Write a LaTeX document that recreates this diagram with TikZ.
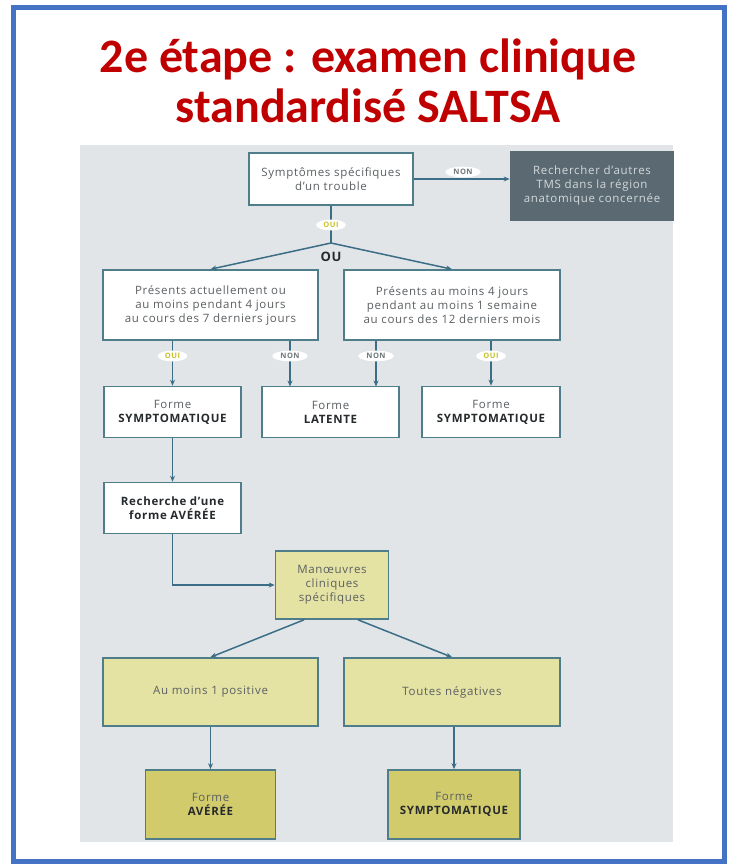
\documentclass[tikz,border=0pt]{standalone}
\usepackage{fontspec}
\setmainfont{Open Sans}[LetterSpace=6]
\newfontfamily\titlefont{Carlito}
\usetikzlibrary{arrows.meta,shapes.geometric,calc}
\definecolor{frameblue}{HTML}{4472C4}
\definecolor{panelgray}{HTML}{E2E5E8}
\definecolor{linkteal}{HTML}{3B6E86}
\definecolor{edgeteal}{HTML}{4F7E8A}
\definecolor{titlered}{HTML}{C00000}
\definecolor{darkfill}{HTML}{5B6A72}
\definecolor{darktext}{HTML}{D3D8DB}
\definecolor{paleyellow}{HTML}{E5E3A4}
\definecolor{olive}{HTML}{D1CB6C}
\definecolor{bodytext}{HTML}{5A5F62}
\definecolor{strongtext}{HTML}{262A2C}
\definecolor{ouicolor}{HTML}{C6C22A}
\definecolor{noncolor}{HTML}{6E767A}
\tikzset{
  basebox/.style={draw=edgeteal, line width=1.6pt, align=center, inner sep=2pt,
    font=\fontsize{11.5}{14}\selectfont, text=bodytext},
  wbox/.style={basebox, fill=white},
  ybox/.style={basebox, fill=paleyellow},
  obox/.style={basebox, fill=olive},
  dbox/.style={basebox, draw=darkfill, fill=darkfill, text=darktext},
  arr/.style={draw=linkteal, line width=1.5pt, -{Stealth[length=6pt,width=5pt]}},
  link/.style={draw=linkteal, line width=1.5pt},
  lab/.style={ellipse, fill=white, inner xsep=3pt, inner ysep=1pt,
    font=\bfseries\fontsize{7.5}{7.5}\selectfont},
  oui/.style={lab, text=ouicolor},
  non/.style={lab, text=noncolor},
}
\newcommand{\boldword}[1]{{\bfseries\color{strongtext}#1}}
\begin{document}
\begin{tikzpicture}[x=1pt,y=-1pt]
\useasboundingbox (0,0) rectangle (733,865);
\fill[white] (0,0) rectangle (733,865);
% outer frame
\draw[frameblue, line width=5pt] (13,7) rectangle (724,861);
% title
\node[font=\titlefont\bfseries\fontsize{48}{50}\selectfont, text=titlered, align=center]
  (title) at (368,81) {2e étape : examen clinique\\standardisé SALTSA};
% grey panel
\fill[panelgray] (80,145) rectangle (673,842);

% boxes
\node[wbox, minimum width=164pt, minimum height=52pt] (sym) at (331,179)
  {Symptômes spécifiques\\d’un trouble};
\node[dbox, minimum width=163pt, minimum height=68pt] (other) at (592,186)
  {Rechercher d’autres\\TMS dans la région\\anatomique concernée};
\node[wbox, minimum width=215pt, minimum height=70pt] (left) at (210.5,305)
  {Présents actuellement ou\\au moins pendant 4 jours\\au cours des 7 derniers jours};
\node[wbox, minimum width=216pt, minimum height=70pt] (right) at (452,305)
  {Présents au moins 4 jours\\pendant au moins 1 semaine\\au cours des 12 derniers mois};
\node[wbox, minimum width=137pt, minimum height=51pt] (symA) at (172.5,412)
  {Forme\\\boldword{SYMPTOMATIQUE}};
\node[wbox, minimum width=137pt, minimum height=51pt] (lat) at (330.5,412)
  {Forme\\\boldword{LATENTE}};
\node[wbox, minimum width=138pt, minimum height=51pt] (symB) at (491,412)
  {Forme\\\boldword{SYMPTOMATIQUE}};
\node[wbox, minimum width=137pt, minimum height=51pt] (rech) at (172.5,508)
  {\boldword{Recherche d’une}\\\boldword{forme AVÉRÉE}};
\node[ybox, minimum width=113pt, minimum height=68pt] (man) at (332,585)
  {Manœuvres\\cliniques\\spécifiques};
\node[ybox, minimum width=215pt, minimum height=68pt] (pos) at (210.5,692)
  {Au moins 1 positive};
\node[ybox, minimum width=216pt, minimum height=68pt] (neg) at (452,692)
  {Toutes négatives};
\node[obox, minimum width=130pt, minimum height=69pt] (av) at (210.5,804.5)
  {Forme\\\boldword{AVÉRÉE}};
\node[obox, minimum width=132pt, minimum height=69pt] (symC) at (454,804.5)
  {Forme\\\boldword{SYMPTOMATIQUE}};

% first decision
\draw[arr] (sym.east) -- (sym.east -| other.west);
\node[non] (non0) at (463,172) {NON};
\coordinate (split) at (331,243);
\draw[link] (sym.south) -- (split);
\node[oui] (oui0) at (331,225) {OUI};
\draw[arr] (split) -- (left.north);
\draw[arr] (split) -- (right.north);
\node[font=\bfseries\fontsize{13}{13}\selectfont, text=strongtext] (ou) at (331,257) {OU};

% second level
\draw[arr] (left.south -| symA.north) -- (symA.north);
\node[oui] (oui1) at (172.5,356) {OUI};
\draw[arr] (left.south -| 290,0) -- (290,386.5);
\node[non] (non1) at (290,356) {NON};
\draw[arr] (right.south -| 376,0) -- (376,386.5);
\node[non] (non2) at (376,356) {NON};
\draw[arr] (right.south -| symB.north) -- (symB.north);
\node[oui] (oui2) at (491,356) {OUI};

% search for the confirmed form
\draw[arr] (symA.south) -- (rech.north);
\draw[arr] (rech.south) |- (man.west);
\draw[arr] ($(man.south)+(-28,0)$) -- (pos.north);
\draw[arr] ($(man.south)+(26,0)$) -- (neg.north);
\draw[arr] (pos.south) -- (av.north);
\draw[arr] (neg.south -| symC.north) -- (symC.north);
\end{tikzpicture}
\end{document}
